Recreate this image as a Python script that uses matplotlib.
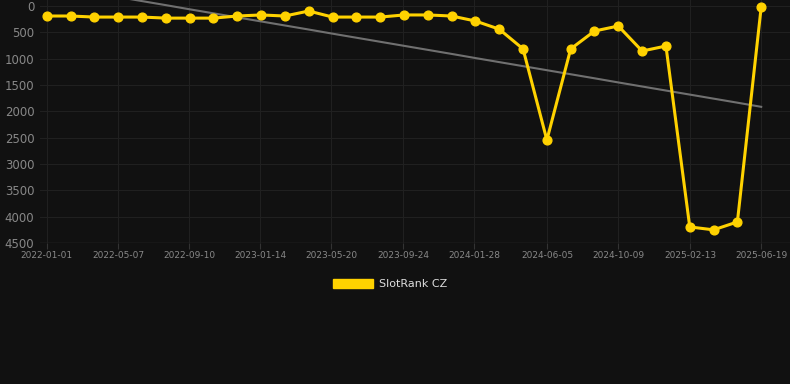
import matplotlib
matplotlib.use("Agg")
import matplotlib.pyplot as plt
import matplotlib.dates as mdates
from matplotlib.patches import Patch
import numpy as np
import pandas as pd

# Data (rank, lower is better)
dates = pd.date_range("2022-01-01", "2025-06-19", periods=31)
ranks = [190, 190, 210, 210, 210, 230, 230, 230, 190, 170, 190, 95, 210, 210, 210,
         170, 170, 190, 285, 440, 815, 2545, 815, 475, 380, 855, 760, 4195, 4250, 4100, 20]
tick_labels = ["2022-01-01", "2022-05-07", "2022-09-10", "2023-01-14", "2023-05-20",
               "2023-09-24", "2024-01-28", "2024-06-05", "2024-10-09", "2025-02-13",
               "2025-06-19"]
y_ticks = [0, 500, 1000, 1500, 2000, 2500, 3000, 3500, 4000, 4500]
series_name = "SlotRank CZ"

bg = "#111111"
gold = "#FFD200"

fig = plt.figure(figsize=(7.9, 3.84), dpi=100, facecolor=bg)
ax = fig.add_axes([40 / 790, (384 - 243) / 384, 750 / 790, 243 / 384])
ax.set_facecolor(bg)

# Linear trend line over the whole range
days = np.array([(d - dates[0]).days for d in dates], dtype=float)
coef = np.polyfit(days, ranks, 1)
ax.plot(dates, np.polyval(coef, days), color="#707070", lw=1.5, zorder=2)

ax.plot(dates, ranks, color=gold, lw=2.2, marker="o", ms=6.3, zorder=3)

ax.set_ylim(4500, -114)
ax.set_yticks(y_ticks)
ax.set_xlim(dates[0] - pd.Timedelta(days=12), dates[0] + pd.Timedelta(days=1316))
ax.set_xticks(pd.to_datetime(tick_labels))
ax.set_xticklabels(tick_labels)

ax.grid(True, color="#202020", lw=0.8)
for s in ax.spines.values():
    s.set_visible(False)
ax.axhline(4500, color="#333333", lw=1, zorder=1)
ax.tick_params(axis="y", colors="#888888", labelsize=8.5, length=0, pad=4)
ax.tick_params(axis="x", colors="#888888", labelsize=6.5, length=4, width=0.8, pad=2)
ax.tick_params(axis="x", color="#333333")
for lbl in ax.get_xticklabels():
    lbl.set_color("#888888")

handle = Patch(facecolor=gold, edgecolor=gold)
leg = fig.legend(handles=[handle], labels=[series_name], loc="center",
                 bbox_to_anchor=(0.5 - 5 / 790, 1 - 284 / 384), frameon=False,
                 fontsize=8, handlelength=3.6, handleheight=0.9, handletextpad=0.5)
for t in leg.get_texts():
    t.set_color("#dddddd")

fig.savefig("out.png", dpi=100, facecolor=bg)
